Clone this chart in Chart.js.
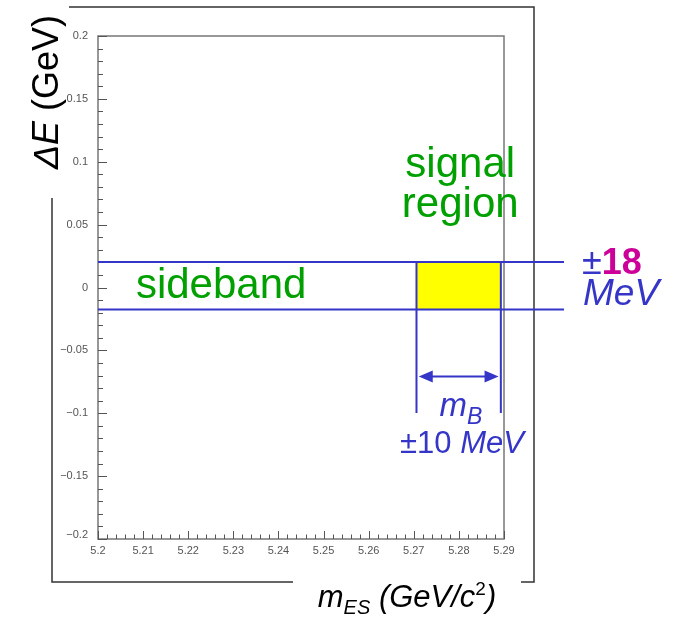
<!DOCTYPE html>
<html>
<head>
<meta charset="utf-8">
<script src="https://cdn.jsdelivr.net/npm/chart.js@4.4.0/dist/chart.umd.min.js"></script>
<style>
  html, body { margin: 0; padding: 0; background: #fff; }
</style>
</head>
<body>
<canvas id="deChart" width="681" height="617"></canvas>
<script>
// axis ranges and tick labels
const xRange = [5.2, 5.29];
const yRange = [-0.2, 0.2];
const xTicks = [5.2, 5.21, 5.22, 5.23, 5.24, 5.25, 5.26, 5.27, 5.28, 5.29];
const xTickLabels = ['5.2', '5.21', '5.22', '5.23', '5.24', '5.25', '5.26', '5.27', '5.28', '5.29'];
const yTicks = [0.2, 0.15, 0.1, 0.05, 0, -0.05, -0.1, -0.15, -0.2];
const yTickLabels = ['0.2', '0.15', '0.1', '0.05', '0', '\u22120.05', '\u22120.1', '\u22120.15', '\u22120.2'];

// band / signal box geometry (in axis units)
const bandEdges = [0.0203, -0.0175];      // Delta E cut lines
const bandLineX = [5.2, 5.3033];          // horizontal lines run past the frame
const signalX = [5.2706, 5.2893];         // m_ES window
const signalLineY = [0.0203, -0.0998];    // vertical markers
const arrowY = -0.0707;
const arrowX = [5.2711, 5.2888];

const blue = '#3535c8';
const green = '#00a000';
const magenta = '#cc0099';

const ctx = document.getElementById('deChart').getContext('2d');

function line(points, extra) {
  return Object.assign({
    data: points,
    showLine: true,
    borderColor: blue,
    borderWidth: 2,
    pointRadius: 0,
    fill: false,
    clip: false,
    order: 1
  }, extra || {});
}

// draws a run of text pieces with different fonts
function drawRuns(c, runs, x, y, align) {
  let total = 0;
  runs.forEach(r => { c.font = r.font; total += c.measureText(r.t).width; });
  let cx = align === 'center' ? x - total / 2 : x;
  runs.forEach(r => {
    c.font = r.font;
    c.fillStyle = r.color;
    c.textAlign = 'left';
    c.textBaseline = 'alphabetic';
    c.fillText(r.t, cx, y + (r.dy || 0));
    cx += c.measureText(r.t).width;
  });
  return total;
}

const framePlugin = {
  id: 'frame',
  beforeDraw(chart) {
    const c = chart.ctx;
    const xs = chart.scales.x, ys = chart.scales.y;
    const a = chart.chartArea;
    c.save();
    c.fillStyle = '#fff';
    c.fillRect(0, 0, chart.width, chart.height);

    // outer frame
    c.strokeStyle = '#333';
    c.lineWidth = 1.5;
    c.beginPath();
    c.moveTo(69, 7); c.lineTo(534, 7); c.lineTo(534, 582); c.lineTo(521, 582);
    c.moveTo(293, 582); c.lineTo(52, 582); c.lineTo(52, 198);
    c.stroke();

    // plot frame
    c.strokeStyle = '#777';
    c.lineWidth = 1.5;
    c.strokeRect(a.left, a.top, a.right - a.left, a.bottom - a.top);

    // ticks
    c.strokeStyle = '#555';
    c.lineWidth = 1;
    c.beginPath();
    for (let i = 0; i <= 45; i++) {
      const px = Math.round(xs.getPixelForValue(xRange[0] + i * 0.002)) + 0.5;
      const len = i % 5 === 0 ? 8 : 4.5;
      c.moveTo(px, a.bottom); c.lineTo(px, a.bottom - len);
    }
    for (let i = 0; i <= 40; i++) {
      const py = Math.round(ys.getPixelForValue(yRange[0] + i * 0.01)) + 0.5;
      const len = i % 5 === 0 ? 9 : 5;
      c.moveTo(a.left, py); c.lineTo(a.left + len, py);
    }
    c.stroke();

    // tick labels
    c.fillStyle = '#555';
    c.font = '11px "Liberation Sans", Arial, sans-serif';
    c.textAlign = 'center';
    c.textBaseline = 'top';
    xTicks.forEach((v, i) => c.fillText(xTickLabels[i], xs.getPixelForValue(v), a.bottom + 6));
    c.textAlign = 'right';
    c.textBaseline = 'middle';
    yTicks.forEach((v, i) => {
      const py = ys.getPixelForValue(v) - (i === yTicks.length - 1 ? 4 : 0);
      c.fillText(yTickLabels[i], a.left - 10, py);
    });
    c.restore();
  },
  afterDatasetsDraw(chart) {
    const c = chart.ctx;
    const xs = chart.scales.x, ys = chart.scales.y;
    const X = v => xs.getPixelForValue(v), Y = v => ys.getPixelForValue(v);
    c.save();

    // arrow heads
    c.fillStyle = blue;
    const ay = Y(arrowY);
    [[X(arrowX[0]), 1], [X(arrowX[1]), -1]].forEach(([px, dir]) => {
      c.beginPath();
      c.moveTo(px, ay);
      c.lineTo(px + dir * 14, ay - 6);
      c.lineTo(px + dir * 14, ay + 6);
      c.closePath();
      c.fill();
    });

    const sans = '"Liberation Sans", Arial, sans-serif';
    // green labels
    c.fillStyle = green;
    c.font = '42px ' + sans;
    c.textAlign = 'center';
    c.textBaseline = 'alphabetic';
    c.fillText('signal', X(5.2803), Y(0.0879));
    c.fillText('region', X(5.2803), Y(0.0557));
    c.fillText('sideband', X(5.2273), Y(-0.0083));

    // +-18 MeV
    drawRuns(c, [
      { t: '\u00b1', font: '36px ' + sans, color: blue },
      { t: '18', font: 'bold 36px ' + sans, color: magenta }
    ], 582, 274, 'left');
    drawRuns(c, [{ t: 'MeV', font: 'italic 37px ' + sans, color: blue }], 583, 305, 'left');

    // m_B +-10 MeV
    drawRuns(c, [
      { t: 'm', font: 'italic 33px ' + sans, color: blue },
      { t: 'B', font: 'italic 23px ' + sans, color: blue, dy: 8 }
    ], 461, 416, 'center');
    drawRuns(c, [
      { t: '\u00b110 ', font: '31px ' + sans, color: blue },
      { t: 'MeV', font: 'italic 31px ' + sans, color: blue }
    ], 462, 453, 'center');

    // x axis title
    drawRuns(c, [
      { t: 'm', font: 'italic 31px ' + sans, color: '#000' },
      { t: 'ES', font: 'italic 20px ' + sans, color: '#000', dy: 7 },
      { t: ' (GeV/c', font: 'italic 31px ' + sans, color: '#000' },
      { t: '2', font: '19px ' + sans, color: '#000', dy: -12 },
      { t: ')', font: 'italic 31px ' + sans, color: '#000' }
    ], 407, 607, 'center');

    // y axis title (rotated), with a white backing like the original
    c.translate(60, 92);
    c.rotate(-Math.PI / 2);
    c.fillStyle = '#fff';
    c.fillRect(-86, -32, 172, 36);
    drawRuns(c, [
      { t: '\u0394E', font: 'italic 36px ' + sans, color: '#000' },
      { t: ' (GeV)', font: '36px ' + sans, color: '#000' }
    ], 0, -2, 'center');
    c.restore();
  }
};

new Chart(ctx, {
  type: 'scatter',
  data: {
    datasets: [
      // yellow signal box, filled down to the lower band edge
      line([{ x: signalX[0], y: bandEdges[0] }, { x: signalX[1], y: bandEdges[0] }], {
        borderWidth: 0,
        borderColor: 'rgba(0,0,0,0)',
        backgroundColor: '#ffff00',
        fill: { value: bandEdges[1] },
        order: 5
      }),
      line([{ x: bandLineX[0], y: bandEdges[0] }, { x: bandLineX[1], y: bandEdges[0] }]),
      line([{ x: bandLineX[0], y: bandEdges[1] }, { x: bandLineX[1], y: bandEdges[1] }]),
      line([{ x: signalX[0], y: signalLineY[0] }, { x: signalX[0], y: signalLineY[1] }]),
      line([{ x: signalX[1], y: signalLineY[0] }, { x: signalX[1], y: signalLineY[1] }]),
      line([{ x: arrowX[0] + 0.002, y: arrowY }, { x: arrowX[1] - 0.002, y: arrowY }])
    ]
  },
  options: {
    responsive: false,
    animation: false,
    layout: { padding: { left: 98, right: 177, top: 36, bottom: 78 } },
    scales: {
      x: { type: 'linear', min: xRange[0], max: xRange[1], display: false },
      y: { type: 'linear', min: yRange[0], max: yRange[1], display: false }
    },
    plugins: {
      legend: { display: false },
      tooltip: { enabled: false }
    }
  },
  plugins: [framePlugin]
});
</script>
</body>
</html>
